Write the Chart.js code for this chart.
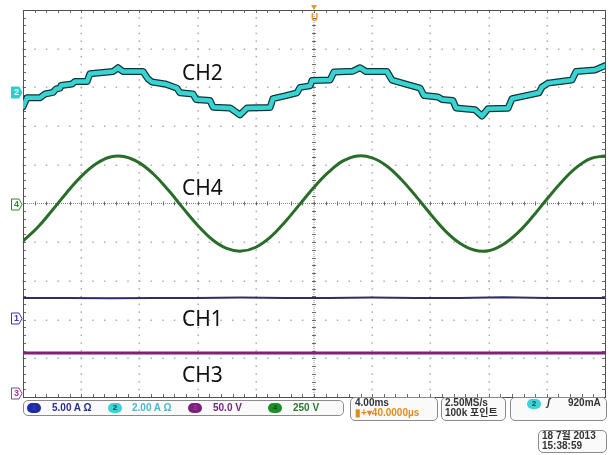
<!DOCTYPE html>
<html>
<head>
<meta charset="utf-8">
<script src="https://cdn.jsdelivr.net/npm/chart.js@4.4.1/dist/chart.umd.min.js"></script>
<style>
  html, body { margin: 0; padding: 0; background: #fff; }
  #scope { position: relative; width: 610px; height: 455px; overflow: hidden; font-family: "Liberation Sans", "Noto Sans CJK KR", sans-serif; }
  #scope canvas { position: absolute; left: 0; top: 0; }
  .tag { position: absolute; font-family: "Noto Sans", "Open Sans", sans-serif; font-size: 21px; color: #111; line-height: 1; }
  .box { position: absolute; border: 1px solid #8a8a8a; border-radius: 5px; background: #fafafa; box-sizing: border-box; }
  .txt { position: absolute; font-size: 10px; font-weight: bold; line-height: 10px; white-space: nowrap; }
  .pill { position: absolute; width: 14px; height: 10px; border-radius: 5px; font-size: 8px; font-weight: bold; line-height: 10px; text-align: center; }
</style>
</head>
<body>
<div id="scope">
  <canvas id="scopeChart" width="610" height="455"></canvas>

  <div class="tag" style="left:182px;top:62px">CH2</div>
  <div class="tag" style="left:182px;top:177px">CH4</div>
  <div class="tag" style="left:182px;top:308px">CH1</div>
  <div class="tag" style="left:182px;top:364px">CH3</div>

  <!-- channel scale readouts -->
  <div class="box" style="left:23px;top:400px;width:321px;height:16px"></div>
  <div class="pill" style="left:27px;top:403px;background:#1f2aa8;color:#3040c0">1</div>
  <div class="txt" style="left:52px;top:403px;color:#2b2f8c">5.00 A Ω</div>
  <div class="pill" style="left:108px;top:403px;background:#3cd2d6;color:#0a4a50">2</div>
  <div class="txt" style="left:132px;top:403px;color:#4cb8c8">2.00 A Ω</div>
  <div class="pill" style="left:188px;top:403px;background:#7e1f7e;color:#9a3a9a">3</div>
  <div class="txt" style="left:213px;top:403px;color:#74267a">50.0 V</div>
  <div class="pill" style="left:268px;top:403px;background:#1f8f2a;color:#0d5a16">4</div>
  <div class="txt" style="left:293px;top:403px;color:#2a7a2a">250 V</div>

  <!-- horizontal readout -->
  <div class="box" style="left:350px;top:397px;width:88px;height:24px"></div>
  <div class="txt" style="left:355px;top:398px;color:#333">4.00ms</div>
  <div class="txt" style="left:355px;top:408px;color:#e08c18">▮+▾40.0000µs</div>

  <!-- acquisition readout -->
  <div class="box" style="left:441px;top:397px;width:65px;height:24px"></div>
  <div class="txt" style="left:445px;top:398px;color:#333">2.50MS/s</div>
  <div class="txt" style="left:445px;top:408px;color:#333">100k 포인트</div>

  <!-- trigger readout -->
  <div class="box" style="left:510px;top:397px;width:97px;height:24px"></div>
  <div class="pill" style="left:527px;top:399px;background:#3cd2d6;color:#0a4a50">2</div>
  <div class="txt" style="left:547px;top:398px;color:#333;font-style:italic">ʃ</div>
  <div class="txt" style="left:568px;top:398px;color:#333">920mA</div>

  <!-- date / time -->
  <div class="box" style="left:538px;top:430px;width:69px;height:23px"></div>
  <div class="txt" style="left:542px;top:431px;color:#333">18 7월 2013</div>
  <div class="txt" style="left:542px;top:441px;color:#333">15:38:59</div>
</div>

<script>
// time in ms (10 divisions x 4 ms), amplitude in screen divisions
const ch2Ms = [0, 0.27, 1.17, 1.51, 2.06, 2.27, 2.54, 2.61, 3.37, 3.57, 4.40, 4.60, 6.19, 6.53, 6.87, 8.25, 8.59, 8.87, 9.76, 10.58,
  10.79, 11.68, 11.89, 12.85, 13.06, 14.23, 14.91, 15.40, 16.98, 17.18, 18.01, 18.83, 19.04, 19.73, 19.86, 21.10, 21.37, 22.68, 23.16, 23.57,
  25.02, 25.36, 26.25, 27.29, 27.56, 28.52, 28.80, 29.55, 29.76, 31.07, 31.55, 31.96, 33.33, 33.61, 34.50, 35.46, 35.67, 36.08, 37.73, 38.01,
  39.31, 40.0];
const ch2Div = [2.50, 2.73, 2.73, 2.83, 2.87, 2.96, 2.98, 3.05, 3.09, 3.15, 3.15, 3.35, 3.41, 3.51, 3.41, 3.41, 3.22, 3.14, 3.09, 2.98,
  2.86, 2.83, 2.69, 2.66, 2.49, 2.47, 2.29, 2.47, 2.48, 2.71, 2.78, 2.86, 3.00, 3.04, 3.18, 3.19, 3.40, 3.42, 3.51, 3.41,
  3.41, 3.19, 3.09, 2.98, 2.79, 2.75, 2.69, 2.66, 2.47, 2.42, 2.26, 2.45, 2.46, 2.71, 2.78, 2.86, 3.01, 3.11, 3.19, 3.41,
  3.45, 3.56];

const ch4Ms = [0, 1, 2, 3, 4, 5, 6, 7, 8, 9, 10, 11, 12, 13, 14, 15, 16, 17, 18, 19, 20,
  21, 22, 23, 24, 25, 26, 27, 28, 29, 30, 31, 32, 33, 34, 35, 36, 37, 38, 39, 40];
const ch4Div = [-0.97, -0.62, -0.18, 0.28, 0.70, 1.02, 1.20, 1.21, 1.05, 0.75, 0.34, -0.12, -0.56, -0.93, -1.16, -1.23, -1.13, -0.87, -0.48, -0.03, 0.42,
  0.81, 1.10, 1.23, 1.18, 0.97, 0.62, 0.19, -0.27, -0.70, -1.02, -1.20, -1.22, -1.06, -0.76, -0.35, 0.11, 0.55, 0.92, 1.16, 1.23];

const ch1Ms = [0, 3, 6, 9, 12, 15, 18, 21, 24, 27, 30, 33, 36, 40];
const ch1Div = [-2.44, -2.44, -2.45, -2.44, -2.44, -2.43, -2.44, -2.44, -2.43, -2.44, -2.44, -2.42, -2.44, -2.44];

const ch3Ms = [0, 10, 20, 30, 40];
const ch3Div = [-3.86, -3.86, -3.86, -3.86, -3.86];

const xDivs = [0, 4, 8, 12, 16, 20, 24, 28, 32, 36, 40];
const yDivs = [-5, -4, -3, -2, -1, 0, 1, 2, 3, 4, 5];

// channel ground markers on the left edge: [label, level in div, colour, filled]
const markers = [['2', 2.88, '#35c9cf', true], ['4', 0, '#2a8a2a', false], ['1', -2.95, '#3a3ab0', false], ['3', -4.9, '#9a3a9a', false]];

const pts = (xs, ys) => xs.map((x, i) => ({ x, y: ys[i] }));

const graticule = {
  id: 'graticule',
  beforeDatasetsDraw(chart) {
    const { ctx, chartArea: a, scales: { x, y } } = chart;
    const xMid = x.getPixelForValue(20), yMid = y.getPixelForValue(0);
    ctx.save();
    // dotted division lines
    ctx.fillStyle = '#adadad';
    xDivs.slice(1, -1).forEach(v => {
      if (v === 20) return;
      const px = Math.round(x.getPixelForValue(v));
      for (let s = -5; s <= 5.001; s += 0.2) ctx.fillRect(px - 0.5, y.getPixelForValue(s) - 0.5, 1.5, 1.5);
    });
    yDivs.slice(1, -1).forEach(v => {
      if (v === 0) return;
      const py = Math.round(y.getPixelForValue(v));
      for (let s = 0; s <= 40.001; s += 0.8) ctx.fillRect(x.getPixelForValue(s) - 0.5, py - 0.5, 1.5, 1.5);
    });
    // centre crosshair
    ctx.fillStyle = '#8a8a8a';
    for (let px = a.left; px < a.right; px += 2) ctx.fillRect(px, yMid - 0.5, 1, 1);
    for (let py = a.top; py < a.bottom; py += 2) ctx.fillRect(xMid - 0.5, py, 1, 1);
    ctx.strokeStyle = '#6a6a6a';
    ctx.lineWidth = 1;
    ctx.beginPath();
    for (let s = 0; s <= 40.001; s += 0.8) {
      const px = Math.round(x.getPixelForValue(s)) + 0.5;
      ctx.moveTo(px, yMid - 2); ctx.lineTo(px, yMid + 2);
      ctx.moveTo(px, a.top); ctx.lineTo(px, a.top + 3);
      ctx.moveTo(px, a.bottom); ctx.lineTo(px, a.bottom - 3);
    }
    for (let s = -5; s <= 5.001; s += 0.2) {
      const py = Math.round(y.getPixelForValue(s)) + 0.5;
      ctx.moveTo(xMid - 2, py); ctx.lineTo(xMid + 2, py);
      ctx.moveTo(a.left, py); ctx.lineTo(a.left + 3, py);
      ctx.moveTo(a.right, py); ctx.lineTo(a.right - 3, py);
    }
    ctx.stroke();
    // frame
    ctx.strokeStyle = '#505050';
    ctx.strokeRect(Math.round(a.left) + 0.5, Math.round(a.top) + 0.5, Math.round(a.right - a.left), Math.round(a.bottom - a.top));
    ctx.restore();
  },
  afterDraw(chart) {
    const { ctx, chartArea: a, scales: { x, y } } = chart;
    ctx.save();
    ctx.font = 'bold 9px "Liberation Sans", sans-serif';
    ctx.textAlign = 'center';
    ctx.textBaseline = 'middle';
    markers.forEach(([label, level, color, filled]) => {
      const cy = Math.round(y.getPixelForValue(level)) + 0.5;
      const l = 11.5, r = a.left - 1;
      ctx.beginPath();
      ctx.moveTo(l, cy - 5.5); ctx.lineTo(r - 3, cy - 5.5); ctx.lineTo(r, cy);
      ctx.lineTo(r - 3, cy + 5.5); ctx.lineTo(l, cy + 5.5); ctx.closePath();
      ctx.fillStyle = filled ? color : '#ffffff';
      ctx.fill();
      ctx.strokeStyle = color;
      ctx.lineWidth = 1;
      ctx.stroke();
      ctx.fillStyle = filled ? '#e8ffff' : color;
      ctx.fillText(label, l + 5, cy + 0.5);
    });
    // trigger position marker
    const tx = Math.round(x.getPixelForValue(20));
    ctx.fillStyle = '#e89a2a';
    ctx.beginPath();
    ctx.moveTo(tx - 3, 5); ctx.lineTo(tx + 3, 5); ctx.lineTo(tx, 10); ctx.closePath();
    ctx.fill();
    ctx.font = 'bold 10px "Liberation Sans", sans-serif';
    ctx.fillText('U', tx + 0.5, 18);
    ctx.restore();
  }
};

new Chart(document.getElementById('scopeChart'), {
  type: 'line',
  data: {
    datasets: [
      { label: 'CH2', data: pts(ch2Ms, ch2Div), borderColor: '#38d4d4', borderWidth: 4.5, order: 0 },
      { label: 'CH2 edge', data: pts(ch2Ms, ch2Div), borderColor: '#123535', borderWidth: 7, order: 1 },
      { label: 'CH4', data: pts(ch4Ms, ch4Div), borderColor: '#2a6c2a', borderWidth: 3, tension: 0.4, order: 0 },
      { label: 'CH1', data: pts(ch1Ms, ch1Div), borderColor: '#2c2c6e', borderWidth: 2, order: 0 },
      { label: 'CH3', data: pts(ch3Ms, ch3Div), borderColor: '#7e2272', borderWidth: 3, order: 0 }
    ]
  },
  options: {
    responsive: false,
    animation: false,
    layout: { padding: { left: 23, right: 5, top: 10, bottom: 58 } },
    elements: { point: { radius: 0 }, line: { borderJoinStyle: 'round', borderCapStyle: 'round' } },
    plugins: { legend: { display: false }, tooltip: { enabled: false } },
    scales: {
      x: { type: 'linear', min: 0, max: 40, display: false },
      y: { type: 'linear', min: -5, max: 5, display: false }
    }
  },
  plugins: [graticule]
});
</script>
</body>
</html>
